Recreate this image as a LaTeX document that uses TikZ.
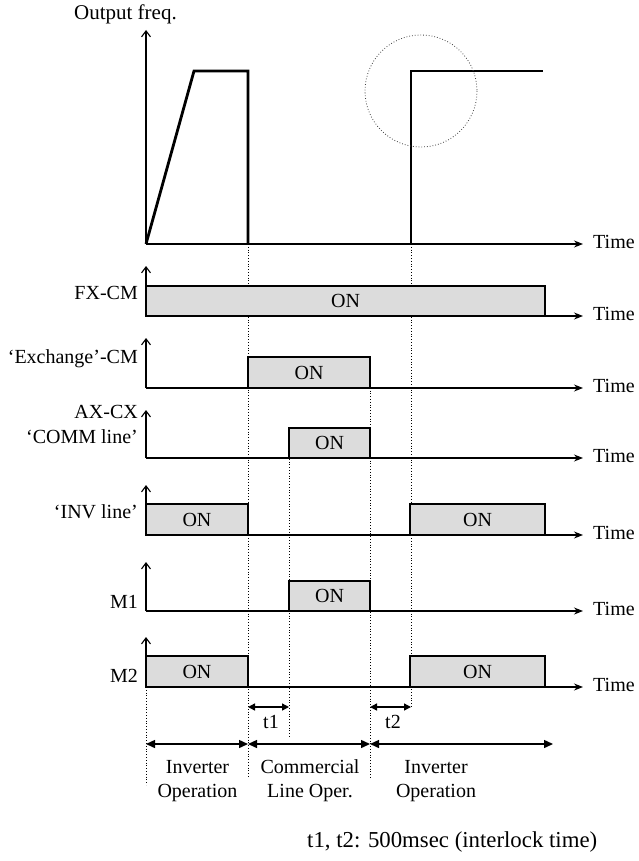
\documentclass[tikz,border=0pt]{standalone}
\usepackage{fontspec}
\setmainfont{Liberation Serif}
\usetikzlibrary{arrows.meta}
\definecolor{boxgray}{HTML}{DCDCDC}
\begin{document}
\begin{tikzpicture}[x=1pt,y=-1pt,
  font=\fontsize{20}{24}\selectfont,
  axis/.style={line width=1.1pt},
  vaxis/.style={axis,-{Straight Barb[length=6pt,width=9pt]}},
  taxis/.style={axis,-{Stealth[length=9pt,width=7pt,inset=3pt]}},
  sig/.style={line width=2.8pt,line join=miter},
  onbox/.style={draw,line width=1.1pt,fill=boxgray},
  guide/.style={dotted,line width=0.8pt},
  circ/.style={dotted,line width=0.8pt,draw=black!75},
  span/.style={line width=1.4pt,{Triangle[length=9pt,width=8pt]}-{Triangle[length=9pt,width=8pt]}},
  tspan/.style={line width=1.4pt,{Triangle[length=7pt,width=7pt]}-{Triangle[length=7pt,width=7pt]}},
  lbl/.style={anchor=base east,inner sep=0pt},
  tlbl/.style={anchor=west,inner sep=0pt},
  ctxt/.style={anchor=base,inner sep=0pt},
  ontxt/.style={inner sep=0pt}]
\useasboundingbox (0,0) rectangle (638,861);

% ---------- guide (dotted) lines ----------
\coordinate (ga1) at (146,687); \coordinate (ga2) at (146,785);
\coordinate (gb1) at (248,244); \coordinate (gb2) at (248,778);
\coordinate (gc1) at (289,428); \coordinate (gc2) at (289,737);
\coordinate (gd1) at (370,357); \coordinate (gd2) at (370,778);
\coordinate (ge1) at (411,244); \coordinate (ge2) at (411,707);
\draw[guide] (ga1) -- (ga2);
\draw[guide] (gb1) -- (gb2);
\draw[guide] (gc1) -- (gc2);
\draw[guide] (gd1) -- (gd2);
\draw[guide] (ge1) -- (ge2);

% ---------- output frequency ----------
\coordinate (o0) at (146,244);
\coordinate (otop) at (146,30);
\coordinate (oend) at (583,244);
\draw[vaxis] (o0) -- (otop);
\draw[taxis] (o0) -- (oend);
\node[lbl,font=\fontsize{21}{25}\selectfont] (lout) at (177,20) {Output freq.};
\node[tlbl] (tm0) at (593,242) {Time};
\coordinate (f1) at (194,71); \coordinate (f2) at (248,71); \coordinate (f3) at (248,244);
\draw[sig] (o0) -- (f1) -- (f2) -- (f3);
\coordinate (f4) at (411,244); \coordinate (f5) at (411,71); \coordinate (f6) at (543,71);
\draw[sig] (f4) -- (f5) -- (f6);
\coordinate (cc) at (421,91);
\draw[circ] (cc) circle[radius=56];

% ---------- FX-CM ----------
\coordinate (a1) at (146,316); \coordinate (a1t) at (146,266); \coordinate (a1e) at (583,316);
\draw[vaxis] (a1) -- (a1t);
\draw[taxis] (a1) -- (a1e);
\draw[onbox] (146,286) rectangle (545,316);
\node[ontxt] (on1) at (345.5,301) {ON};
\node[lbl] (l1) at (138,299) {FX-CM};
\node[tlbl] (tm1) at (593,314) {Time};

% ---------- Exchange-CM ----------
\coordinate (a2) at (146,388); \coordinate (a2t) at (146,338); \coordinate (a2e) at (583,388);
\draw[vaxis] (a2) -- (a2t);
\draw[taxis] (a2) -- (a2e);
\draw[onbox] (248,357) rectangle (370,388);
\node[ontxt] (on2) at (309,372.5) {ON};
\node[lbl] (l2) at (138,363) {‘Exchange’-CM};
\node[tlbl] (tm2) at (593,386) {Time};

% ---------- AX-CX / COMM line ----------
\coordinate (a3) at (146,458); \coordinate (a3t) at (146,410); \coordinate (a3e) at (583,458);
\draw[vaxis] (a3) -- (a3t);
\draw[taxis] (a3) -- (a3e);
\draw[onbox] (289,428) rectangle (370,458);
\node[ontxt] (on3) at (329.5,443) {ON};
\node[lbl] (l3a) at (138,418) {AX-CX};
\node[lbl] (l3b) at (138,443) {‘COMM line’};
\node[tlbl] (tm3) at (593,456) {Time};

% ---------- INV line ----------
\coordinate (a4) at (146,535); \coordinate (a4t) at (146,485); \coordinate (a4e) at (583,535);
\draw[vaxis] (a4) -- (a4t);
\draw[taxis] (a4) -- (a4e);
\draw[onbox] (146,504) rectangle (248,535);
\node[ontxt] (on4a) at (197,519.5) {ON};
\draw[onbox] (410,504) rectangle (545,535);
\node[ontxt] (on4b) at (477.5,519.5) {ON};
\node[lbl] (l4) at (138,518) {‘INV line’};
\node[tlbl] (tm4) at (593,533) {Time};

% ---------- M1 ----------
\coordinate (a5) at (146,611); \coordinate (a5t) at (146,562); \coordinate (a5e) at (583,611);
\draw[vaxis] (a5) -- (a5t);
\draw[taxis] (a5) -- (a5e);
\draw[onbox] (289,581) rectangle (370,611);
\node[ontxt] (on5) at (329.5,596) {ON};
\node[lbl] (l5) at (138,608) {M1};
\node[tlbl] (tm5) at (593,609) {Time};

% ---------- M2 ----------
\coordinate (a6) at (146,687); \coordinate (a6t) at (146,637); \coordinate (a6e) at (583,687);
\draw[vaxis] (a6) -- (a6t);
\draw[taxis] (a6) -- (a6e);
\draw[onbox] (146,656) rectangle (248,687);
\node[ontxt] (on6a) at (197,671.5) {ON};
\draw[onbox] (410,656) rectangle (545,687);
\node[ontxt] (on6b) at (477.5,671.5) {ON};
\node[lbl] (l6) at (138,682) {M2};
\node[tlbl] (tm6) at (593,685) {Time};

% ---------- interlock times ----------
\coordinate (t1a) at (248,707); \coordinate (t1b) at (289,707);
\draw[tspan] (t1a) -- (t1b);
\node[ctxt] (t1l) at (271,728) {t1};
\coordinate (t2a) at (370,707); \coordinate (t2b) at (411,707);
\draw[tspan] (t2a) -- (t2b);
\node[ctxt] (t2l) at (393,728) {t2};

% ---------- operation spans ----------
\coordinate (s0) at (146,744); \coordinate (s1) at (248,744);
\coordinate (s2) at (370,744); \coordinate (s3) at (553,744);
\draw[span] (s0) -- (s1);
\draw[span] (s1) -- (s2);
\draw[span] (s2) -- (s3);
\node[ctxt] (p1a) at (197.5,773) {Inverter};
\node[ctxt] (p1b) at (197.5,797) {Operation};
\node[ctxt] (p2a) at (310,773) {Commercial};
\node[ctxt] (p2b) at (310,797) {Line Oper.};
\node[ctxt] (p3a) at (436,773) {Inverter};
\node[ctxt] (p3b) at (436,797) {Operation};

\node[anchor=base west,inner sep=0pt,font=\fontsize{22.8}{27}\selectfont] (note) at (307,847) {t1, t2: 500msec (interlock time)};
\end{tikzpicture}
\end{document}
